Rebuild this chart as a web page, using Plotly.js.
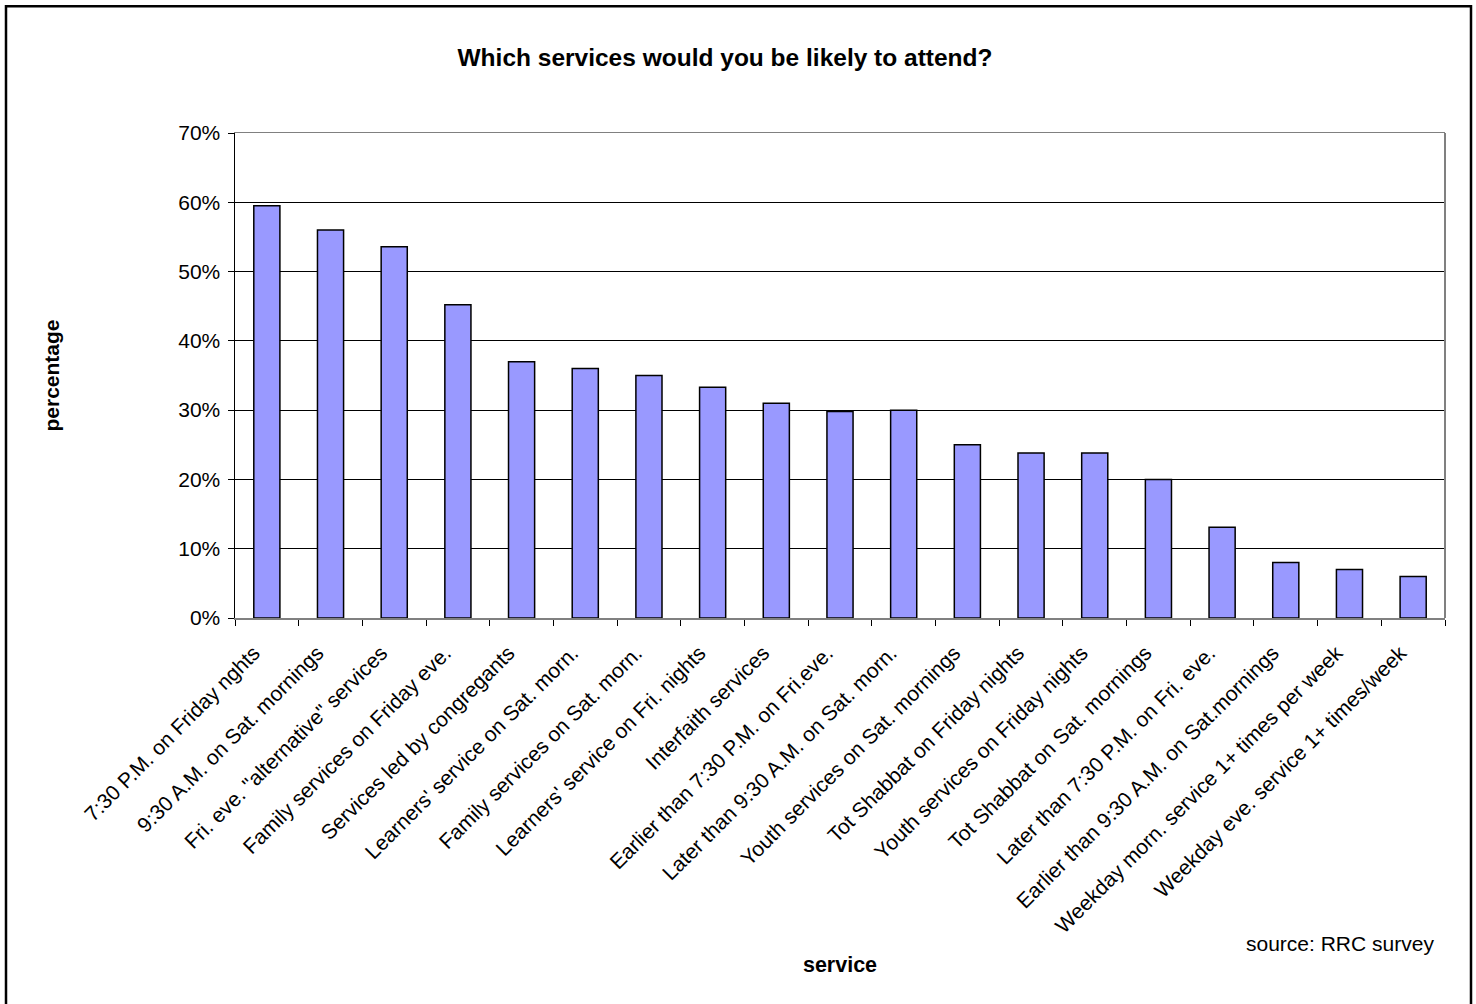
<!DOCTYPE html>
<html>
<head>
<meta charset="utf-8">
<script src="https://cdn.plot.ly/plotly-3.0.1.min.js"></script>
<style>html,body{margin:0;padding:0;background:#fff;}#chart{width:1476px;height:1004px;}</style>
</head>
<body>
<div id="chart"></div>
<script>
const categories = [
  "7:30 P.M. on Friday nghts",
  "9:30 A.M. on Sat. mornings",
  "Fri. eve. \"alternative\" services",
  "Family services on Friday eve.",
  "Services led by congregants",
  "Learners' service on Sat. morn.",
  "Family services on Sat. morn.",
  "Learners' service on Fri. nights",
  "Interfaith services",
  "Earlier than 7:30 P.M. on Fri.eve.",
  "Later than 9:30 A.M. on Sat. morn.",
  "Youth services on Sat. mornings",
  "Tot Shabbat on Friday nights",
  "Youth services on Friday nights",
  "Tot Shabbat on Sat. mornings",
  "Later than 7:30 P.M. on Fri. eve.",
  "Earlier than 9:30 A.M. on Sat.mornings",
  "Weekday morn. service 1+ times per week",
  "Weekday eve. service 1+ times/week"
];
const percentages = [59.5, 56.0, 53.6, 45.2, 37.0, 36.0, 35.0, 33.3, 31.0, 29.8, 30.0, 25.0, 23.8, 23.8, 20.0, 13.1, 8.0, 7.0, 6.0];
const yTickValues = [0, 10, 20, 30, 40, 50, 60, 70];
const yTickLabels = ["0%", "10%", "20%", "30%", "40%", "50%", "60%", "70%"];

const W = 1476, H = 1004;
const L = 235, R = 1445, T = 133, B = 618.5;
const pw = R - L, ph = B - T;
const px = v => (v - L) / pw;
const py = v => (B - v) / ph;
const FONT = "Arial, 'Liberation Sans', sans-serif";

const trace = {
  type: "bar",
  x: categories,
  y: percentages,
  marker: { color: "#9999FF", line: { color: "#000000", width: 1.5 } },
  hoverinfo: "x+y"
};

const layout = {
  width: W, height: H,
  margin: { l: L, r: W - R, t: T, b: H - B, pad: 0 },
  paper_bgcolor: "#ffffff",
  plot_bgcolor: "#ffffff",
  font: { family: FONT, color: "#000000", size: 21 },
  showlegend: false,
  bargap: 0.59,
  title: {
    text: "<b>Which services would you be likely to attend?</b>",
    font: { family: FONT, size: 24.5, color: "#000" },
    x: 725 / W, xref: "container", xanchor: "center",
    y: 1 - 57 / H, yref: "container", yanchor: "middle"
  },
  xaxis: {
    type: "category",
    tickangle: -45,
    tickfont: { family: FONT, size: 21, color: "#000" },
    ticks: "outside", ticklen: 6, tickcolor: "#000", tickwidth: 1,
    tickson: "boundaries",
    ticklabelstandoff: 13,
    ticklabelshift: -13,
    showline: true, linecolor: "#808080", linewidth: 1.5, mirror: true,
    showgrid: false,
    automargin: false,
    title: { text: "<b>service</b>", font: { family: FONT, size: 21.5, color: "#000" }, standoff: 20 }
  },
  yaxis: {
    range: [0, 70],
    tickvals: yTickValues,
    ticktext: yTickLabels,
    tickfont: { family: FONT, size: 21, color: "#000" },
    ticks: "outside", ticklen: 6, tickcolor: "#000", tickwidth: 1,
    ticklabelstandoff: 3,
    showline: true, linecolor: "#000000", linewidth: 1.5,
    showgrid: true, gridcolor: "#000000", gridwidth: 1,
    zeroline: false,
    automargin: false,
    title: { text: "<b>percentage</b>", font: { family: FONT, size: 21, color: "#000" }, standoff: 113 }
  },
  shapes: [
    { type: "line", xref: "paper", yref: "paper", x0: 1, x1: 1, y0: 0, y1: 1,
      line: { color: "#808080", width: 2 } },
    { type: "rect", xref: "paper", yref: "paper",
      x0: px(6), x1: px(1471), y0: py(1012), y1: py(6),
      line: { color: "#000000", width: 2.5 }, fillcolor: "rgba(0,0,0,0)", layer: "above" }
  ],
  annotations: [
    { text: "source: RRC survey", xref: "paper", yref: "paper",
      x: px(1436), y: py(944), xanchor: "right", yanchor: "middle",
      showarrow: false, font: { family: FONT, size: 21, color: "#000" } }
  ]
};

Plotly.newPlot("chart", [trace], layout, { displayModeBar: false, staticPlot: true });
</script>
</body>
</html>
